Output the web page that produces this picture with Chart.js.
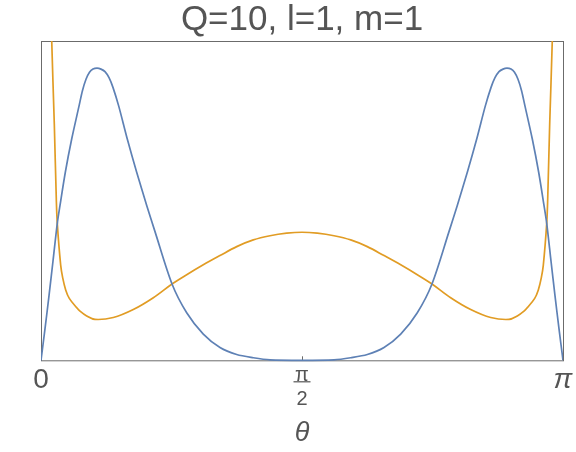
<!DOCTYPE html>
<html>
<head>
<meta charset="utf-8">
<script src="https://cdn.jsdelivr.net/npm/chart.js@4.4.0/dist/chart.umd.min.js"></script>
<style>
  html, body { margin: 0; padding: 0; background: #fff; }
</style>
</head>
<body>
<canvas id="myChart" width="576" height="452"></canvas>
<script>
// theta is in units of pi (0 .. 1)
const thetaBlue = [0, 0.0077, 0.0153, 0.023, 0.0312, 0.0364, 0.0466, 0.0588, 0.0728, 0.0795, 0.0862, 0.0929,
  0.0996, 0.1073, 0.1149, 0.1226, 0.1303, 0.138, 0.1489, 0.1653, 0.1833, 0.2025, 0.2184, 0.251, 0.2791,
  0.3109, 0.3429, 0.3749, 0.4067, 0.4387, 0.5,
  0.5613, 0.5933, 0.6251, 0.6571, 0.6891, 0.7209, 0.749, 0.7816, 0.7975, 0.8167, 0.8347, 0.8511, 0.862,
  0.8697, 0.8774, 0.8851, 0.8927, 0.9004, 0.9071, 0.9138, 0.9205, 0.9272, 0.9412, 0.9534, 0.9636, 0.9688,
  0.977, 0.9847, 0.9923, 1];
const blueVals = [0, 0.099, 0.202, 0.311, 0.429, 0.485, 0.589, 0.693, 0.796, 0.845, 0.88, 0.902,
  0.912, 0.915, 0.912, 0.904, 0.885, 0.854, 0.796, 0.693, 0.589, 0.485, 0.403, 0.239, 0.149,
  0.082, 0.04, 0.018, 0.008, 0.0015, 0,
  0.0015, 0.008, 0.018, 0.04, 0.082, 0.149, 0.239, 0.403, 0.485, 0.589, 0.693, 0.796, 0.854,
  0.885, 0.904, 0.912, 0.915, 0.912, 0.902, 0.88, 0.845, 0.796, 0.693, 0.589, 0.485, 0.429,
  0.311, 0.202, 0.099, 0];

const thetaOrange = [0.008, 0.014, 0.0205, 0.0255, 0.0293, 0.0312, 0.0377, 0.0416, 0.0473, 0.0542, 0.0684, 0.0747,
  0.0875, 0.1034, 0.1385, 0.1768, 0.2152, 0.251, 0.2791, 0.3109, 0.3429, 0.3749, 0.4067, 0.4387, 0.4707, 0.5,
  0.5293, 0.5613, 0.5933, 0.6251, 0.6571, 0.6891, 0.7209, 0.749, 0.7848, 0.8232, 0.8615, 0.8966, 0.9125,
  0.9253, 0.9316, 0.9458, 0.9527, 0.9584, 0.9623, 0.9688, 0.9707, 0.9745, 0.9795, 0.986, 0.992];
const orangeVals = [2.6, 1.45, 1.003, 0.739, 0.506, 0.429, 0.298, 0.258, 0.2205, 0.194, 0.165, 0.154,
  0.139, 0.128, 0.134, 0.159, 0.196, 0.239, 0.268, 0.299, 0.328, 0.356, 0.377, 0.39, 0.398, 0.401,
  0.398, 0.39, 0.377, 0.356, 0.328, 0.299, 0.268, 0.239, 0.196, 0.159, 0.134, 0.128, 0.139,
  0.154, 0.165, 0.194, 0.2205, 0.258, 0.298, 0.429, 0.506, 0.739, 1.003, 1.45, 2.6];

const tickValues = [0, 0.5, 1];
const tickLabels = ['0', ['π', '2'], 'π'];

const textColor = '#555555';
const fontFamily = '"Liberation Sans", Arial, sans-serif';

// frame round the plot, inward tick marks and the bar of the pi/2 fraction
const framePlugin = {
    id: 'frame',
    beforeDatasetsDraw(chart) {
        const {ctx, chartArea: a, scales: {x}} = chart;
        ctx.save();
        ctx.strokeStyle = '#6b6b6b';
        ctx.lineWidth = 1;
        ctx.strokeRect(a.left + 0.5, a.top + 0.5, a.width, a.height);
        ctx.beginPath();
        tickValues.forEach(v => {
            const px = Math.round(x.getPixelForValue(v)) + 0.5;
            ctx.moveTo(px, a.bottom);
            ctx.lineTo(px, a.bottom - 4);
        });
        ctx.stroke();
        ctx.restore();
    },
    afterDraw(chart) {
        const {ctx, scales: {x}} = chart;
        const px = x.getPixelForValue(0.5);
        ctx.save();
        ctx.strokeStyle = textColor;
        ctx.lineWidth = 1.2;
        ctx.beginPath();
        ctx.moveTo(px - 8.5, x.top + 21.5);
        ctx.lineTo(px + 8.5, x.top + 21.5);
        ctx.stroke();
        ctx.restore();
    }
};

const ctx = document.getElementById('myChart');
const chart = new Chart(ctx, {
    type: 'line',
    data: {
        datasets: [
            {
                label: 'blue',
                data: thetaBlue.map((t, i) => ({x: t, y: blueVals[i]})),
                borderColor: '#5E81B5',
                borderWidth: 1.7,
                pointRadius: 0,
                tension: 0.3,
                clip: {left: 0, top: 0, right: 0, bottom: 3}
            },
            {
                label: 'orange',
                data: thetaOrange.map((t, i) => ({x: t, y: orangeVals[i]})),
                borderColor: '#E19C24',
                borderWidth: 1.7,
                pointRadius: 0,
                tension: 0.35
            }
        ]
    },
    options: {
        responsive: false,
        animation: false,
        events: [],
        layout: {
            padding: {left: 41, right: 13, top: 0, bottom: 0}
        },
        plugins: {
            legend: {display: false},
            tooltip: {enabled: false},
            title: {
                display: true,
                text: 'Q=10, l=1, m=1',
                fullSize: false,
                color: textColor,
                font: {family: fontFamily, size: 35, weight: 'normal', lineHeight: 1.1},
                padding: {top: 1.5, bottom: 1}
            }
        },
        scales: {
            x: {
                type: 'linear',
                min: 0,
                max: 1,
                border: {display: false},
                grid: {display: false, drawTicks: false},
                afterBuildTicks: (scale) => {
                    scale.ticks = tickValues.map(v => ({value: v}));
                },
                ticks: {
                    padding: 3,
                    maxRotation: 0,
                    autoSkip: false,
                    color: textColor,
                    font: (c) => {
                        const v = c.tick ? c.tick.value : 0;
                        if (v === 0.5) return {family: fontFamily, size: 20, lineHeight: 1.2};
                        if (v === 1) return {family: fontFamily, size: 28, style: 'italic', lineHeight: 1.2};
                        return {family: fontFamily, size: 28, lineHeight: 1.2};
                    },
                    callback: (value, index) => tickLabels[index]
                },
                title: {
                    display: true,
                    text: 'θ',
                    color: textColor,
                    font: {family: fontFamily, size: 27, style: 'italic', lineHeight: 1.1},
                    padding: {top: 4, bottom: 4}
                }
            },
            y: {
                display: false,
                min: 0,
                max: 1
            }
        }
    },
    plugins: [framePlugin]
});
</script>
</body>
</html>
